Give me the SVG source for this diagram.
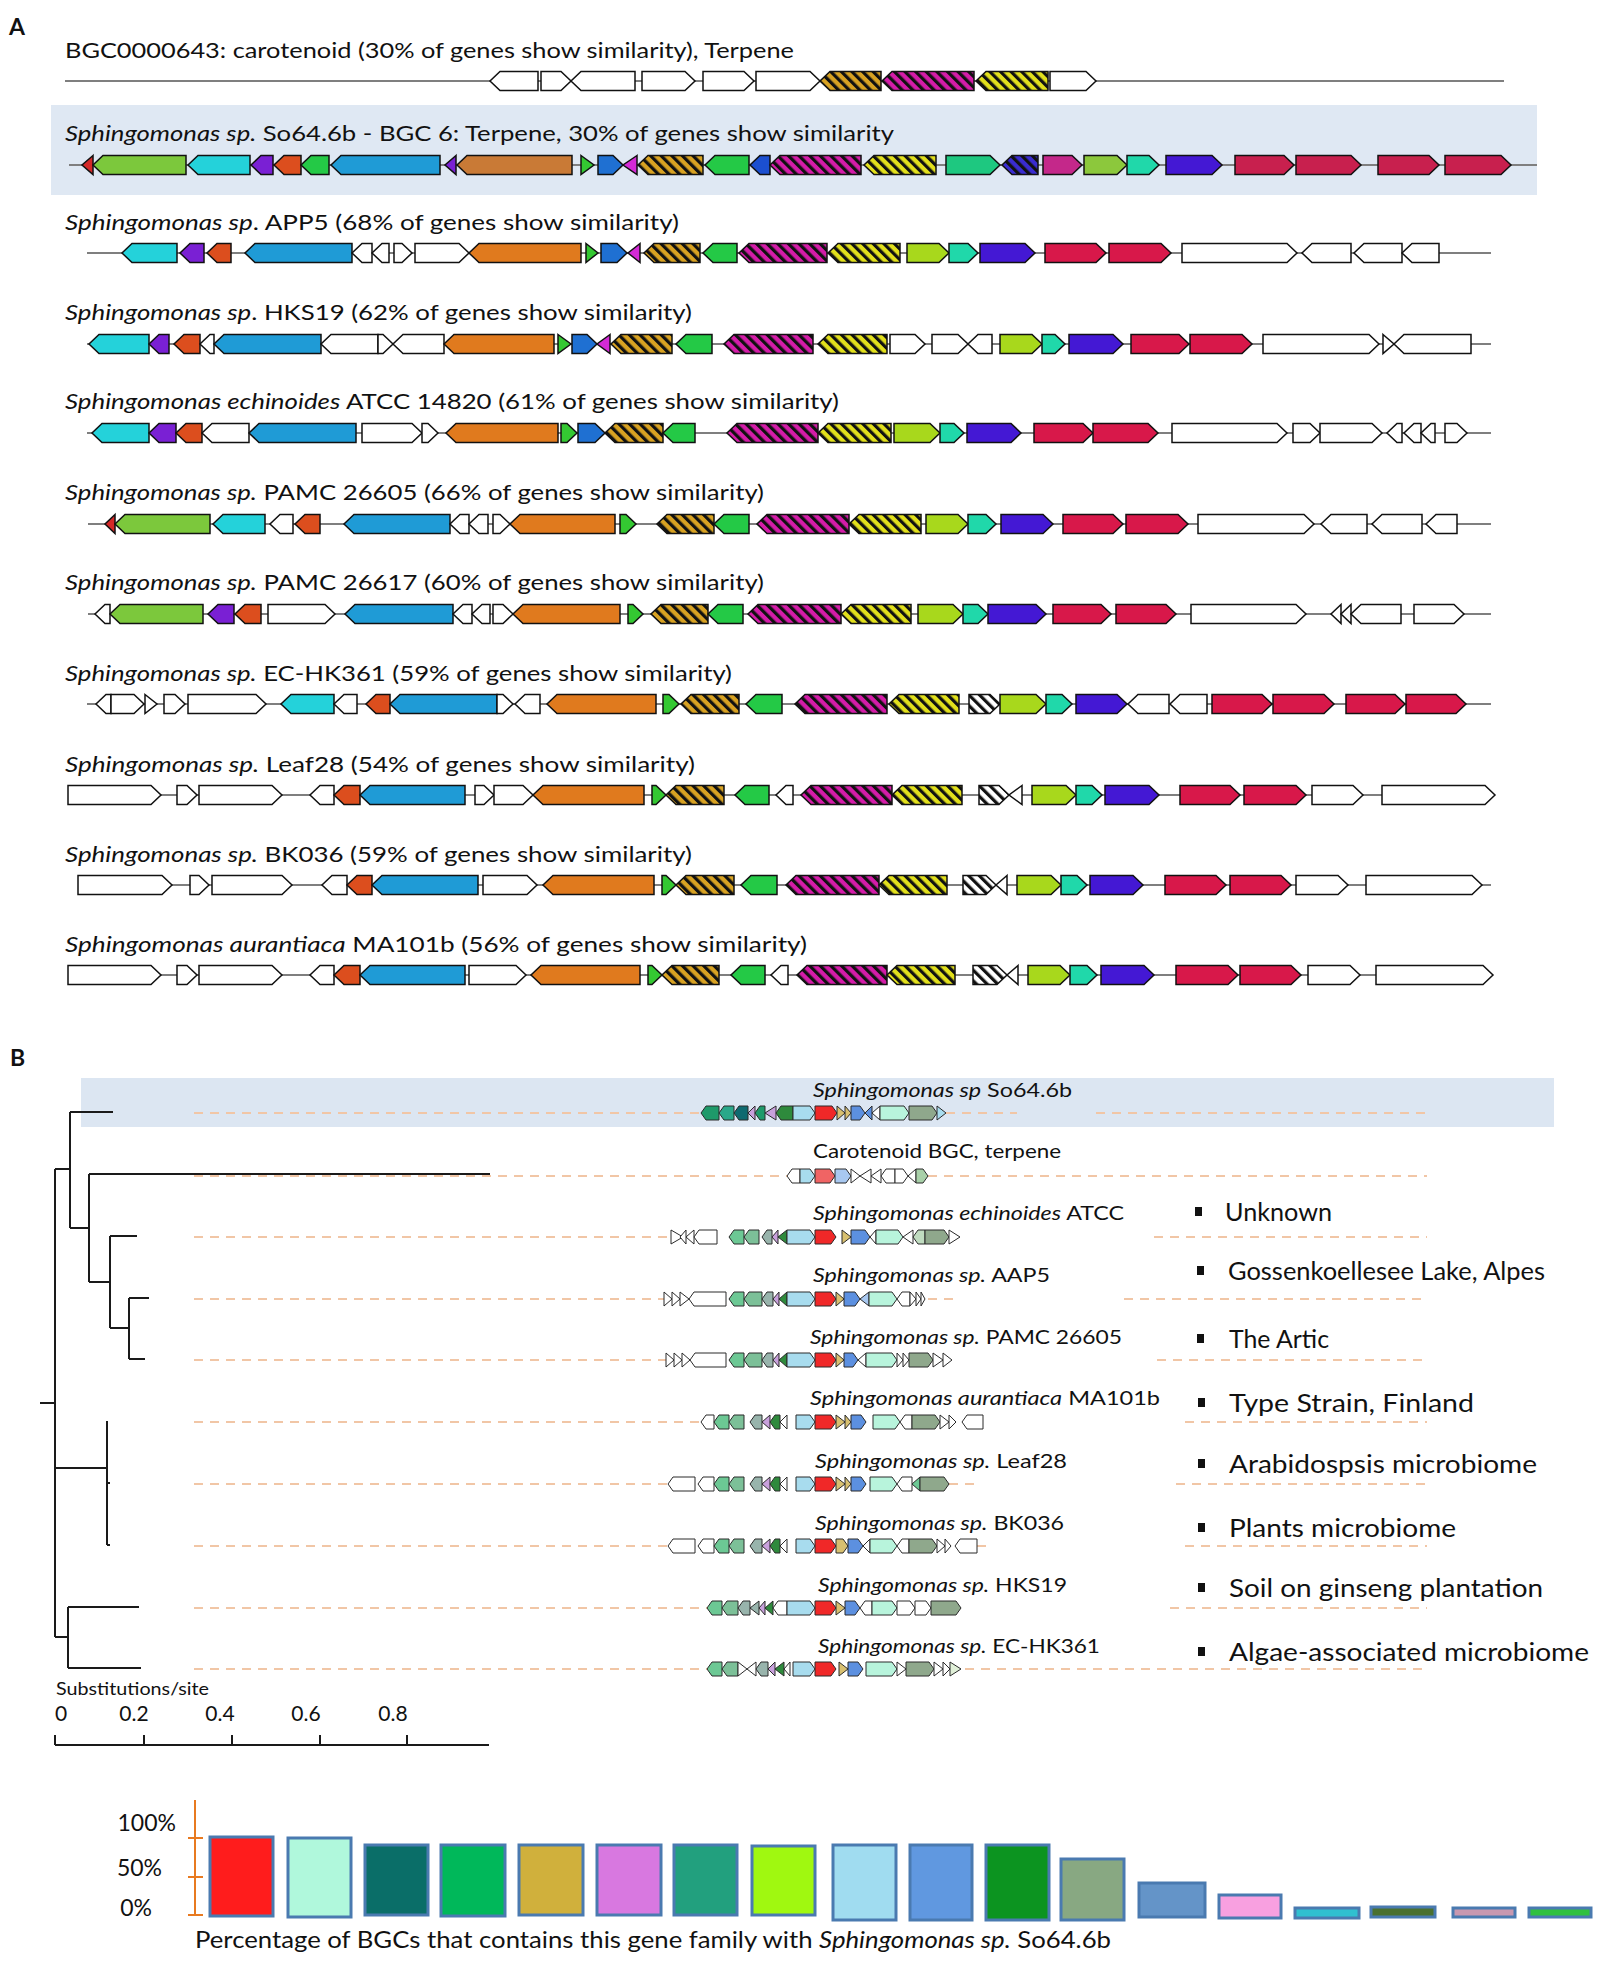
<svg xmlns="http://www.w3.org/2000/svg" width="1600" height="1961" viewBox="0 0 1600 1961">
<defs>
<pattern id="pO" patternUnits="userSpaceOnUse" width="7.5" height="10" patternTransform="rotate(-45)"><rect width="7.5" height="10" fill="#d8a222"/><rect width="3.2" height="10" fill="#111"/></pattern>
<pattern id="pM" patternUnits="userSpaceOnUse" width="7.5" height="10" patternTransform="rotate(-45)"><rect width="7.5" height="10" fill="#d41ca8"/><rect width="3.2" height="10" fill="#111"/></pattern>
<pattern id="pY" patternUnits="userSpaceOnUse" width="7.5" height="10" patternTransform="rotate(-45)"><rect width="7.5" height="10" fill="#e2e01c"/><rect width="3.2" height="10" fill="#111"/></pattern>
<pattern id="pW" patternUnits="userSpaceOnUse" width="7.5" height="10" patternTransform="rotate(-45)"><rect width="7.5" height="10" fill="#fff"/><rect width="3.2" height="10" fill="#111"/></pattern>
<pattern id="pD" patternUnits="userSpaceOnUse" width="7.5" height="10" patternTransform="rotate(-45)"><rect width="7.5" height="10" fill="#3a2cd0"/><rect width="3.2" height="10" fill="#111"/></pattern>
</defs>
<style>
.t{font-family:Lato,"Liberation Sans",sans-serif;fill:#111}
.ta{font-size:21px}
.tb{font-size:20px}
.tl{font-size:25px}
.i{font-style:italic}
.trk{stroke:#7f7f7f;stroke-width:2;fill:none}
.tree{stroke:#1a1a1a;stroke-width:2;fill:none}
.dash{stroke:#f1c6a6;stroke-width:2;stroke-dasharray:9 7;fill:none}
.ga path{stroke:#111;stroke-width:1.5;stroke-linejoin:miter}
.gb path{stroke:#2a2a2a;stroke-width:1;stroke-linejoin:miter}
.W{fill:#fff}.CY{fill:#24d2da}.PU{fill:#7a20d4}.OR{fill:#dc4e1e}.BL{fill:#1f9bd6}.BR{fill:#e07a1e}.BR1{fill:#c97a36}
.SG{fill:#34c832}.BB{fill:#1f70d2}.MG{fill:#d42ad6}.GR{fill:#24c946}.LM{fill:#a8d81c}.TE{fill:#20d8aa}.BV{fill:#4418d4}
.RD{fill:#d8184a}.RD1{fill:#c8204e}.LG{fill:#7cc83c}.RS{fill:#d42828}.TG{fill:#1ec880}.MR{fill:#c4288a}.LM1{fill:#8cc83c}.BB2{fill:#1b4fd0}
.HO{fill:url(#pO)}.HM{fill:url(#pM)}.HY{fill:url(#pY)}.HW{fill:url(#pW)}.HD{fill:url(#pD)}
.gA{fill:#1e9a6a}.tl2{fill:#2aa88a}.dt{fill:#0e6a70}.gB{fill:#6cc894}.gB2{fill:#7cc098}.gC{fill:#98b4ac}.pp{fill:#c8a0dc}.dg{fill:#2e8a3c}
.lb{fill:#a8dcee}.rd{fill:#f02828}.kh{fill:#d8c070}.bl{fill:#5c90e0}.mt{fill:#b8f4dc}.gg{fill:#8fa88c}
.bar{stroke:#4a7ab0;stroke-width:3}
</style>
<rect width="1600" height="1961" fill="#fff"/>

<!-- highlights -->
<rect x="51" y="105" width="1486" height="90" fill="#dfe8f3"/>
<rect x="81" y="1078" width="1473" height="49" fill="#dce6f2"/>

<text class="t" x="9" y="35" font-size="23" font-weight="bold">A</text>
<text class="t" x="10" y="1066" font-size="23" font-weight="bold">B</text>

<!-- connectors -->
<g id="connectors">
<path class="trk" d="M65,81H1504M69,165H1537M87,253H1491M87,344H1491M87,433H1491M88,524H1491M88,614H1491M87,704H1491M68,795H1495M78,885H1491M68,975H1493"/>
<path class="dash" d="M194,1113H701M946,1113H1017M1096,1113H1427M194,1176H787M928,1176H1427M194,1237H671M1154,1237H1427M194,1299H664M928,1299H958M1124,1299H1427M194,1360H666M1157,1360H1427M194,1422H701M1185,1422H1427M194,1484H668M949,1484H977M1176,1484H1427M194,1546H668M977,1546H990M1185,1546H1427M194,1608H707M1170,1608H1427M194,1669H707M965,1669H1427"/>
<path class="tree" d="M70,1112H113M70,1112V1228M55,1169H70M70,1228H89M89,1174V1282M89,1174H490M89,1282H110M110,1236V1328M110,1236H137M110,1328H129M129,1298V1359M129,1298H149M129,1359H145M55,1169V1637M40,1403H55M55,1468H107M107,1421V1545M107,1483H110M107,1545H110M55,1637H68M68,1607V1668M68,1607H139M68,1668H141"/>
</g>

<!-- Panel A titles -->
<g id="titlesA" class="t ta">
<text x="65" y="58" textLength="729" lengthAdjust="spacingAndGlyphs">BGC0000643: carotenoid (30% of genes show similarity), Terpene</text>
<text x="65" y="141" textLength="829" lengthAdjust="spacingAndGlyphs"><tspan class="i">Sphingomonas sp.</tspan> So64.6b - BGC 6: Terpene, 30% of genes show similarity</text>
<text x="65" y="230" textLength="614" lengthAdjust="spacingAndGlyphs"><tspan class="i">Sphingomonas sp</tspan>. APP5 (68% of genes show similarity)</text>
<text x="65" y="320" textLength="627" lengthAdjust="spacingAndGlyphs"><tspan class="i">Sphingomonas sp</tspan>. HKS19 (62% of genes show similarity)</text>
<text x="65" y="409" textLength="774" lengthAdjust="spacingAndGlyphs"><tspan class="i">Sphingomonas echinoides</tspan> ATCC 14820 (61% of genes show similarity)</text>
<text x="65" y="500" textLength="699" lengthAdjust="spacingAndGlyphs"><tspan class="i">Sphingomonas sp.</tspan> PAMC 26605 (66% of genes show similarity)</text>
<text x="65" y="590" textLength="699" lengthAdjust="spacingAndGlyphs"><tspan class="i">Sphingomonas sp.</tspan> PAMC 26617 (60% of genes show similarity)</text>
<text x="65" y="681" textLength="667" lengthAdjust="spacingAndGlyphs"><tspan class="i">Sphingomonas sp.</tspan> EC-HK361 (59% of genes show similarity)</text>
<text x="65" y="772" textLength="630" lengthAdjust="spacingAndGlyphs"><tspan class="i">Sphingomonas sp.</tspan> Leaf28 (54% of genes show similarity)</text>
<text x="65" y="862" textLength="627" lengthAdjust="spacingAndGlyphs"><tspan class="i">Sphingomonas sp.</tspan> BK036 (59% of genes show similarity)</text>
<text x="65" y="952" textLength="742" lengthAdjust="spacingAndGlyphs"><tspan class="i">Sphingomonas aurantiaca</tspan> MA101b (56% of genes show similarity)</text>
</g>

<!-- Panel A gene rows -->
<g id="rowA0" class="ga" transform="translate(0,81)">
<path class="W" d="M538,-9.5H500l-10,9.5l10,9.5H538Z"/>
<path class="W" d="M541,-9.5H561l10,9.5l-10,9.5H541Z"/>
<path class="W" d="M635,-9.5H581l-10,9.5l10,9.5H635Z"/>
<path class="W" d="M642,-9.5H685l10,9.5l-10,9.5H642Z"/>
<path class="W" d="M703,-9.5H744l10,9.5l-10,9.5H703Z"/>
<path class="W" d="M756,-9.5H810l10,9.5l-10,9.5H756Z"/>
<path class="HO" d="M881,-9.5H830l-10,9.5l10,9.5H881Z"/>
<path class="HM" d="M974,-9.5H892l-10,9.5l10,9.5H974Z"/>
<path class="HY" d="M1048,-9.5H986l-10,9.5l10,9.5H1048Z"/>
<path class="W" d="M1050,-9.5H1086l10,9.5l-10,9.5H1050Z"/>
</g>

<g id="rowA1" class="ga" transform="translate(0,165)">
<path class="RS" d="M93,-9.5L82,0L93,9.5Z"/>
<path class="LG" d="M186,-9.5H103l-10,9.5l10,9.5H186Z"/>
<path class="CY" d="M250,-9.5H198l-10,9.5l10,9.5H250Z"/>
<path class="PU" d="M273,-9.5H261l-10,9.5l10,9.5H273Z"/>
<path class="OR" d="M301,-9.5H284l-10,9.5l10,9.5H301Z"/>
<path class="GR" d="M329,-9.5H311l-10,9.5l10,9.5H329Z"/>
<path class="BL" d="M440,-9.5H341l-10,9.5l10,9.5H440Z"/>
<path class="PU" d="M456,-9.5L445,0L456,9.5Z"/>
<path class="BR1" d="M572,-9.5H467l-10,9.5l10,9.5H572Z"/>
<path class="SG" d="M581,-9.5L594,0L581,9.5Z"/>
<path class="BB" d="M598,-9.5H613l10,9.5l-10,9.5H598Z"/>
<path class="MG" d="M637,-9.5L623,0L637,9.5Z"/>
<path class="HO" d="M703,-9.5H648l-10,9.5l10,9.5H703Z"/>
<path class="GR" d="M749,-9.5H715l-10,9.5l10,9.5H749Z"/>
<path class="BB2" d="M770,-9.5H760l-10,9.5l10,9.5H770Z"/>
<path class="HM" d="M861,-9.5H780l-10,9.5l10,9.5H861Z"/>
<path class="HY" d="M936,-9.5H874l-10,9.5l10,9.5H936Z"/>
<path class="TG" d="M946,-9.5H990l10,9.5l-10,9.5H946Z"/>
<path class="HD" d="M1038,-9.5H1012l-10,9.5l10,9.5H1038Z"/>
<path class="MR" d="M1043,-9.5H1072l10,9.5l-10,9.5H1043Z"/>
<path class="LM1" d="M1084,-9.5H1117l10,9.5l-10,9.5H1084Z"/>
<path class="TE" d="M1127,-9.5H1149l10,9.5l-10,9.5H1127Z"/>
<path class="BV" d="M1166,-9.5H1212l10,9.5l-10,9.5H1166Z"/>
<path class="RD1" d="M1235,-9.5H1284l10,9.5l-10,9.5H1235Z"/>
<path class="RD1" d="M1296,-9.5H1351l10,9.5l-10,9.5H1296Z"/>
<path class="RD1" d="M1378,-9.5H1429l10,9.5l-10,9.5H1378Z"/>
<path class="RD1" d="M1445,-9.5H1501l10,9.5l-10,9.5H1445Z"/>
</g>

<g id="rowA2" class="ga" transform="translate(0,253)">
<path class="CY" d="M177,-9.5H132l-10,9.5l10,9.5H177Z"/>
<path class="PU" d="M204,-9.5H190l-10,9.5l10,9.5H204Z"/>
<path class="OR" d="M231,-9.5H217l-10,9.5l10,9.5H231Z"/>
<path class="BL" d="M352,-9.5H255l-10,9.5l10,9.5H352Z"/>
<path class="W" d="M372,-9.5H362l-10,9.5l10,9.5H372Z"/>
<path class="W" d="M389,-9.5H382l-10,9.5l10,9.5H389Z"/>
<path class="W" d="M394,-9.5H402l10,9.5l-10,9.5H394Z"/>
<path class="W" d="M415,-9.5H459l10,9.5l-10,9.5H415Z"/>
<path class="BR" d="M581,-9.5H479l-10,9.5l10,9.5H581Z"/>
<path class="SG" d="M586,-9.5L598,0L586,9.5Z"/>
<path class="BB" d="M601,-9.5H617l10,9.5l-10,9.5H601Z"/>
<path class="MG" d="M640,-9.5L628,0L640,9.5Z"/>
<path class="HO" d="M700,-9.5H654l-10,9.5l10,9.5H700Z"/>
<path class="GR" d="M737,-9.5H713l-10,9.5l10,9.5H737Z"/>
<path class="HM" d="M827,-9.5H749l-10,9.5l10,9.5H827Z"/>
<path class="HY" d="M900,-9.5H838l-10,9.5l10,9.5H900Z"/>
<path class="LM" d="M907,-9.5H939l10,9.5l-10,9.5H907Z"/>
<path class="TE" d="M949,-9.5H968l10,9.5l-10,9.5H949Z"/>
<path class="BV" d="M980,-9.5H1025l10,9.5l-10,9.5H980Z"/>
<path class="RD" d="M1045,-9.5H1096l10,9.5l-10,9.5H1045Z"/>
<path class="RD" d="M1109,-9.5H1161l10,9.5l-10,9.5H1109Z"/>
<path class="W" d="M1182,-9.5H1287l10,9.5l-10,9.5H1182Z"/>
<path class="W" d="M1351,-9.5H1312l-10,9.5l10,9.5H1351Z"/>
<path class="W" d="M1402,-9.5H1364l-10,9.5l10,9.5H1402Z"/>
<path class="W" d="M1439,-9.5H1412l-10,9.5l10,9.5H1439Z"/>
</g>

<g id="rowA3" class="ga" transform="translate(0,344)">
<path class="CY" d="M149,-9.5H99l-10,9.5l10,9.5H149Z"/>
<path class="PU" d="M169,-9.5H159l-10,9.5l10,9.5H169Z"/>
<path class="OR" d="M200,-9.5H184l-10,9.5l10,9.5H200Z"/>
<path class="W" d="M214,-9.5H210l-10,9.5l10,9.5H214Z"/>
<path class="BL" d="M321,-9.5H224l-10,9.5l10,9.5H321Z"/>
<path class="W" d="M378,-9.5H331l-10,9.5l10,9.5H378Z"/>
<path class="W" d="M378,-9.5H383l10,9.5l-10,9.5H378Z"/>
<path class="W" d="M444,-9.5H403l-10,9.5l10,9.5H444Z"/>
<path class="BR" d="M554,-9.5H454l-10,9.5l10,9.5H554Z"/>
<path class="SG" d="M558,-9.5L571,0L558,9.5Z"/>
<path class="BB" d="M572,-9.5H587l10,9.5l-10,9.5H572Z"/>
<path class="MG" d="M610,-9.5L597,0L610,9.5Z"/>
<path class="HO" d="M672,-9.5H621l-10,9.5l10,9.5H672Z"/>
<path class="GR" d="M712,-9.5H686l-10,9.5l10,9.5H712Z"/>
<path class="HM" d="M813,-9.5H734l-10,9.5l10,9.5H813Z"/>
<path class="HY" d="M887,-9.5H828l-10,9.5l10,9.5H887Z"/>
<path class="W" d="M890,-9.5H915l10,9.5l-10,9.5H890Z"/>
<path class="W" d="M932,-9.5H958l10,9.5l-10,9.5H932Z"/>
<path class="W" d="M992,-9.5H978l-10,9.5l10,9.5H992Z"/>
<path class="LM" d="M1000,-9.5H1032l10,9.5l-10,9.5H1000Z"/>
<path class="TE" d="M1042,-9.5H1055l10,9.5l-10,9.5H1042Z"/>
<path class="BV" d="M1069,-9.5H1113l10,9.5l-10,9.5H1069Z"/>
<path class="RD" d="M1131,-9.5H1179l10,9.5l-10,9.5H1131Z"/>
<path class="RD" d="M1190,-9.5H1242l10,9.5l-10,9.5H1190Z"/>
<path class="W" d="M1263,-9.5H1369l10,9.5l-10,9.5H1263Z"/>
<path class="W" d="M1383,-9.5L1394,0L1383,9.5Z"/>
<path class="W" d="M1471,-9.5H1404l-10,9.5l10,9.5H1471Z"/>
</g>

<g id="rowA4" class="ga" transform="translate(0,433)">
<path class="CY" d="M149,-9.5H102l-10,9.5l10,9.5H149Z"/>
<path class="PU" d="M176,-9.5H159l-10,9.5l10,9.5H176Z"/>
<path class="OR" d="M202,-9.5H186l-10,9.5l10,9.5H202Z"/>
<path class="W" d="M249,-9.5H212l-10,9.5l10,9.5H249Z"/>
<path class="BL" d="M356,-9.5H259l-10,9.5l10,9.5H356Z"/>
<path class="W" d="M362,-9.5H412l10,9.5l-10,9.5H362Z"/>
<path class="W" d="M422,-9.5H428l10,9.5l-10,9.5H422Z"/>
<path class="BR" d="M558,-9.5H456l-10,9.5l10,9.5H558Z"/>
<path class="SG" d="M561,-9.5H567l10,9.5l-10,9.5H561Z"/>
<path class="BB" d="M578,-9.5H595l10,9.5l-10,9.5H578Z"/>
<path class="HO" d="M663,-9.5H615l-10,9.5l10,9.5H663Z"/>
<path class="GR" d="M695,-9.5H673l-10,9.5l10,9.5H695Z"/>
<path class="HM" d="M818,-9.5H737l-10,9.5l10,9.5H818Z"/>
<path class="HY" d="M891,-9.5H828l-10,9.5l10,9.5H891Z"/>
<path class="LM" d="M894,-9.5H930l10,9.5l-10,9.5H894Z"/>
<path class="TE" d="M940,-9.5H954l10,9.5l-10,9.5H940Z"/>
<path class="BV" d="M967,-9.5H1011l10,9.5l-10,9.5H967Z"/>
<path class="RD" d="M1034,-9.5H1083l10,9.5l-10,9.5H1034Z"/>
<path class="RD" d="M1093,-9.5H1148l10,9.5l-10,9.5H1093Z"/>
<path class="W" d="M1172,-9.5H1277l10,9.5l-10,9.5H1172Z"/>
<path class="W" d="M1293,-9.5H1310l10,9.5l-10,9.5H1293Z"/>
<path class="W" d="M1320,-9.5H1372l10,9.5l-10,9.5H1320Z"/>
<path class="W" d="M1402,-9.5H1397l-10,9.5l10,9.5H1402Z"/>
<path class="W" d="M1421,-9.5H1414l-10,9.5l10,9.5H1421Z"/>
<path class="W" d="M1435,-9.5H1431l-10,9.5l10,9.5H1435Z"/>
<path class="W" d="M1445,-9.5H1457l10,9.5l-10,9.5H1445Z"/>
</g>

<g id="rowA5" class="ga" transform="translate(0,524)">
<path class="RS" d="M115,-9.5L105,0L115,9.5Z"/>
<path class="LG" d="M210,-9.5H125l-10,9.5l10,9.5H210Z"/>
<path class="CY" d="M265,-9.5H223l-10,9.5l10,9.5H265Z"/>
<path class="W" d="M293,-9.5H280l-10,9.5l10,9.5H293Z"/>
<path class="OR" d="M320,-9.5H305l-10,9.5l10,9.5H320Z"/>
<path class="BL" d="M450,-9.5H354l-10,9.5l10,9.5H450Z"/>
<path class="W" d="M469,-9.5H460l-10,9.5l10,9.5H469Z"/>
<path class="W" d="M488,-9.5H479l-10,9.5l10,9.5H488Z"/>
<path class="W" d="M493,-9.5H500l10,9.5l-10,9.5H493Z"/>
<path class="BR" d="M615,-9.5H520l-10,9.5l10,9.5H615Z"/>
<path class="SG" d="M620,-9.5H626l10,9.5l-10,9.5H620Z"/>
<path class="HO" d="M714,-9.5H667l-10,9.5l10,9.5H714Z"/>
<path class="GR" d="M749,-9.5H724l-10,9.5l10,9.5H749Z"/>
<path class="HM" d="M849,-9.5H767l-10,9.5l10,9.5H849Z"/>
<path class="HY" d="M921,-9.5H859l-10,9.5l10,9.5H921Z"/>
<path class="LM" d="M926,-9.5H958l10,9.5l-10,9.5H926Z"/>
<path class="TE" d="M968,-9.5H986l10,9.5l-10,9.5H968Z"/>
<path class="BV" d="M1001,-9.5H1043l10,9.5l-10,9.5H1001Z"/>
<path class="RD" d="M1063,-9.5H1113l10,9.5l-10,9.5H1063Z"/>
<path class="RD" d="M1126,-9.5H1178l10,9.5l-10,9.5H1126Z"/>
<path class="W" d="M1198,-9.5H1304l10,9.5l-10,9.5H1198Z"/>
<path class="W" d="M1367,-9.5H1331l-10,9.5l10,9.5H1367Z"/>
<path class="W" d="M1422,-9.5H1382l-10,9.5l10,9.5H1422Z"/>
<path class="W" d="M1457,-9.5H1436l-10,9.5l10,9.5H1457Z"/>
</g>

<g id="rowA6" class="ga" transform="translate(0,614)">
<path class="W" d="M110,-9.5H105l-10,9.5l10,9.5H110Z"/>
<path class="LG" d="M203,-9.5H120l-10,9.5l10,9.5H203Z"/>
<path class="PU" d="M234,-9.5H218l-10,9.5l10,9.5H234Z"/>
<path class="OR" d="M261,-9.5H245l-10,9.5l10,9.5H261Z"/>
<path class="W" d="M268,-9.5H325l10,9.5l-10,9.5H268Z"/>
<path class="BL" d="M453,-9.5H355l-10,9.5l10,9.5H453Z"/>
<path class="W" d="M472,-9.5H463l-10,9.5l10,9.5H472Z"/>
<path class="W" d="M490,-9.5H482l-10,9.5l10,9.5H490Z"/>
<path class="W" d="M493,-9.5H503l10,9.5l-10,9.5H493Z"/>
<path class="BR" d="M620,-9.5H523l-10,9.5l10,9.5H620Z"/>
<path class="SG" d="M628,-9.5H633l10,9.5l-10,9.5H628Z"/>
<path class="HO" d="M708,-9.5H661l-10,9.5l10,9.5H708Z"/>
<path class="GR" d="M743,-9.5H718l-10,9.5l10,9.5H743Z"/>
<path class="HM" d="M841,-9.5H758l-10,9.5l10,9.5H841Z"/>
<path class="HY" d="M911,-9.5H851l-10,9.5l10,9.5H911Z"/>
<path class="LM" d="M918,-9.5H953l10,9.5l-10,9.5H918Z"/>
<path class="TE" d="M963,-9.5H978l10,9.5l-10,9.5H963Z"/>
<path class="BV" d="M988,-9.5H1036l10,9.5l-10,9.5H988Z"/>
<path class="RD" d="M1053,-9.5H1101l10,9.5l-10,9.5H1053Z"/>
<path class="RD" d="M1116,-9.5H1166l10,9.5l-10,9.5H1116Z"/>
<path class="W" d="M1191,-9.5H1296l10,9.5l-10,9.5H1191Z"/>
<path class="W" d="M1341,-9.5L1331,0L1341,9.5Z"/>
<path class="W" d="M1351,-9.5L1341,0L1351,9.5Z"/>
<path class="W" d="M1401,-9.5H1361l-10,9.5l10,9.5H1401Z"/>
<path class="W" d="M1414,-9.5H1454l10,9.5l-10,9.5H1414Z"/>
</g>

<g id="rowA7" class="ga" transform="translate(0,704)">
<path class="W" d="M111,-9.5H106l-10,9.5l10,9.5H111Z"/>
<path class="W" d="M111,-9.5H134l10,9.5l-10,9.5H111Z"/>
<path class="W" d="M145,-9.5L157,0L145,9.5Z"/>
<path class="W" d="M164,-9.5H175l10,9.5l-10,9.5H164Z"/>
<path class="W" d="M188,-9.5H256l10,9.5l-10,9.5H188Z"/>
<path class="CY" d="M334,-9.5H291l-10,9.5l10,9.5H334Z"/>
<path class="W" d="M357,-9.5H344l-10,9.5l10,9.5H357Z"/>
<path class="OR" d="M390,-9.5H376l-10,9.5l10,9.5H390Z"/>
<path class="BL" d="M497,-9.5H400l-10,9.5l10,9.5H497Z"/>
<path class="W" d="M497,-9.5H503l10,9.5l-10,9.5H497Z"/>
<path class="W" d="M540,-9.5H525l-10,9.5l10,9.5H540Z"/>
<path class="BR" d="M656,-9.5H557l-10,9.5l10,9.5H656Z"/>
<path class="SG" d="M663,-9.5H669l10,9.5l-10,9.5H663Z"/>
<path class="HO" d="M739,-9.5H691l-10,9.5l10,9.5H739Z"/>
<path class="GR" d="M782,-9.5H756l-10,9.5l10,9.5H782Z"/>
<path class="HM" d="M887,-9.5H805l-10,9.5l10,9.5H887Z"/>
<path class="HY" d="M959,-9.5H899l-10,9.5l10,9.5H959Z"/>
<path class="HW" d="M969,-9.5H990l10,9.5l-10,9.5H969Z"/>
<path class="LM" d="M1000,-9.5H1036l10,9.5l-10,9.5H1000Z"/>
<path class="TE" d="M1046,-9.5H1062l10,9.5l-10,9.5H1046Z"/>
<path class="BV" d="M1076,-9.5H1117l10,9.5l-10,9.5H1076Z"/>
<path class="W" d="M1169,-9.5H1138l-10,9.5l10,9.5H1169Z"/>
<path class="W" d="M1207,-9.5H1180l-10,9.5l10,9.5H1207Z"/>
<path class="RD" d="M1212,-9.5H1262l10,9.5l-10,9.5H1212Z"/>
<path class="RD" d="M1273,-9.5H1324l10,9.5l-10,9.5H1273Z"/>
<path class="RD" d="M1346,-9.5H1395l10,9.5l-10,9.5H1346Z"/>
<path class="RD" d="M1406,-9.5H1456l10,9.5l-10,9.5H1406Z"/>
</g>

<g id="rowA8" class="ga" transform="translate(0,795)">
<path class="W" d="M68,-9.5H151l10,9.5l-10,9.5H68Z"/>
<path class="W" d="M177,-9.5H187l10,9.5l-10,9.5H177Z"/>
<path class="W" d="M199,-9.5H272l10,9.5l-10,9.5H199Z"/>
<path class="W" d="M334,-9.5H320l-10,9.5l10,9.5H334Z"/>
<path class="OR" d="M360,-9.5H344l-10,9.5l10,9.5H360Z"/>
<path class="BL" d="M465,-9.5H370l-10,9.5l10,9.5H465Z"/>
<path class="W" d="M475,-9.5H484l10,9.5l-10,9.5H475Z"/>
<path class="W" d="M494,-9.5H523l10,9.5l-10,9.5H494Z"/>
<path class="BR" d="M644,-9.5H543l-10,9.5l10,9.5H644Z"/>
<path class="SG" d="M652,-9.5H656l10,9.5l-10,9.5H652Z"/>
<path class="HO" d="M724,-9.5H676l-10,9.5l10,9.5H724Z"/>
<path class="GR" d="M769,-9.5H745l-10,9.5l10,9.5H769Z"/>
<path class="W" d="M793,-9.5H786l-10,9.5l10,9.5H793Z"/>
<path class="HM" d="M892,-9.5H811l-10,9.5l10,9.5H892Z"/>
<path class="HY" d="M962,-9.5H902l-10,9.5l10,9.5H962Z"/>
<path class="HW" d="M979,-9.5H999l10,9.5l-10,9.5H979Z"/>
<path class="W" d="M1022,-9.5L1009,0L1022,9.5Z"/>
<path class="LM" d="M1032,-9.5H1066l10,9.5l-10,9.5H1032Z"/>
<path class="TE" d="M1076,-9.5H1092l10,9.5l-10,9.5H1076Z"/>
<path class="BV" d="M1105,-9.5H1149l10,9.5l-10,9.5H1105Z"/>
<path class="RD" d="M1180,-9.5H1230l10,9.5l-10,9.5H1180Z"/>
<path class="RD" d="M1244,-9.5H1296l10,9.5l-10,9.5H1244Z"/>
<path class="W" d="M1312,-9.5H1353l10,9.5l-10,9.5H1312Z"/>
<path class="W" d="M1382,-9.5H1485l10,9.5l-10,9.5H1382Z"/>
</g>

<g id="rowA9" class="ga" transform="translate(0,885)">
<path class="W" d="M78,-9.5H162l10,9.5l-10,9.5H78Z"/>
<path class="W" d="M190,-9.5H199l10,9.5l-10,9.5H190Z"/>
<path class="W" d="M212,-9.5H282l10,9.5l-10,9.5H212Z"/>
<path class="W" d="M347,-9.5H332l-10,9.5l10,9.5H347Z"/>
<path class="OR" d="M372,-9.5H357l-10,9.5l10,9.5H372Z"/>
<path class="BL" d="M478,-9.5H382l-10,9.5l10,9.5H478Z"/>
<path class="W" d="M483,-9.5H527l10,9.5l-10,9.5H483Z"/>
<path class="BR" d="M654,-9.5H553l-10,9.5l10,9.5H654Z"/>
<path class="SG" d="M662,-9.5H666l10,9.5l-10,9.5H662Z"/>
<path class="HO" d="M734,-9.5H686l-10,9.5l10,9.5H734Z"/>
<path class="GR" d="M777,-9.5H751l-10,9.5l10,9.5H777Z"/>
<path class="HM" d="M879,-9.5H796l-10,9.5l10,9.5H879Z"/>
<path class="HY" d="M947,-9.5H889l-10,9.5l10,9.5H947Z"/>
<path class="HW" d="M963,-9.5H986l10,9.5l-10,9.5H963Z"/>
<path class="W" d="M1007,-9.5L996,0L1007,9.5Z"/>
<path class="LM" d="M1017,-9.5H1051l10,9.5l-10,9.5H1017Z"/>
<path class="TE" d="M1061,-9.5H1077l10,9.5l-10,9.5H1061Z"/>
<path class="BV" d="M1090,-9.5H1133l10,9.5l-10,9.5H1090Z"/>
<path class="RD" d="M1165,-9.5H1216l10,9.5l-10,9.5H1165Z"/>
<path class="RD" d="M1230,-9.5H1281l10,9.5l-10,9.5H1230Z"/>
<path class="W" d="M1296,-9.5H1338l10,9.5l-10,9.5H1296Z"/>
<path class="W" d="M1366,-9.5H1472l10,9.5l-10,9.5H1366Z"/>
</g>

<g id="rowA10" class="ga" transform="translate(0,975)">
<path class="W" d="M68,-9.5H151l10,9.5l-10,9.5H68Z"/>
<path class="W" d="M177,-9.5H187l10,9.5l-10,9.5H177Z"/>
<path class="W" d="M199,-9.5H272l10,9.5l-10,9.5H199Z"/>
<path class="W" d="M334,-9.5H320l-10,9.5l10,9.5H334Z"/>
<path class="OR" d="M360,-9.5H344l-10,9.5l10,9.5H360Z"/>
<path class="BL" d="M465,-9.5H370l-10,9.5l10,9.5H465Z"/>
<path class="W" d="M469,-9.5H516l10,9.5l-10,9.5H469Z"/>
<path class="BR" d="M640,-9.5H541l-10,9.5l10,9.5H640Z"/>
<path class="SG" d="M648,-9.5H652l10,9.5l-10,9.5H648Z"/>
<path class="HO" d="M719,-9.5H672l-10,9.5l10,9.5H719Z"/>
<path class="GR" d="M765,-9.5H741l-10,9.5l10,9.5H765Z"/>
<path class="W" d="M788,-9.5H781l-10,9.5l10,9.5H788Z"/>
<path class="HM" d="M887,-9.5H807l-10,9.5l10,9.5H887Z"/>
<path class="HY" d="M955,-9.5H897l-10,9.5l10,9.5H955Z"/>
<path class="HW" d="M973,-9.5H997l10,9.5l-10,9.5H973Z"/>
<path class="W" d="M1018,-9.5L1007,0L1018,9.5Z"/>
<path class="LM" d="M1028,-9.5H1060l10,9.5l-10,9.5H1028Z"/>
<path class="TE" d="M1070,-9.5H1087l10,9.5l-10,9.5H1070Z"/>
<path class="BV" d="M1101,-9.5H1144l10,9.5l-10,9.5H1101Z"/>
<path class="RD" d="M1176,-9.5H1228l10,9.5l-10,9.5H1176Z"/>
<path class="RD" d="M1240,-9.5H1291l10,9.5l-10,9.5H1240Z"/>
<path class="W" d="M1308,-9.5H1350l10,9.5l-10,9.5H1308Z"/>
<path class="W" d="M1376,-9.5H1483l10,9.5l-10,9.5H1376Z"/>
</g>

<!-- Panel B labels -->
<g id="labelsB" class="t tb">
<text x="813" y="1097" textLength="259" lengthAdjust="spacingAndGlyphs"><tspan class="i">Sphingomonas sp</tspan> So64.6b</text>
<text x="813" y="1158" textLength="248" lengthAdjust="spacingAndGlyphs">Carotenoid BGC, terpene</text>
<text x="813" y="1220" textLength="311" lengthAdjust="spacingAndGlyphs"><tspan class="i">Sphingomonas echinoides</tspan> ATCC</text>
<text x="813" y="1282" textLength="237" lengthAdjust="spacingAndGlyphs"><tspan class="i">Sphingomonas sp.</tspan> AAP5</text>
<text x="810" y="1344" textLength="312" lengthAdjust="spacingAndGlyphs"><tspan class="i">Sphingomonas sp.</tspan> PAMC 26605</text>
<text x="810" y="1405" textLength="350" lengthAdjust="spacingAndGlyphs"><tspan class="i">Sphingomonas aurantiaca</tspan> MA101b</text>
<text x="815" y="1468" textLength="252" lengthAdjust="spacingAndGlyphs"><tspan class="i">Sphingomonas sp.</tspan> Leaf28</text>
<text x="815" y="1530" textLength="249" lengthAdjust="spacingAndGlyphs"><tspan class="i">Sphingomonas sp.</tspan> BK036</text>
<text x="818" y="1592" textLength="249" lengthAdjust="spacingAndGlyphs"><tspan class="i">Sphingomonas sp.</tspan> HKS19</text>
<text x="818" y="1653" textLength="282" lengthAdjust="spacingAndGlyphs"><tspan class="i">Sphingomonas sp.</tspan> EC-HK361</text>
</g>

<!-- Panel B gene clusters -->
<g id="rowB1" class="gb" transform="translate(0,1113)">
<path class="gA" d="M719,-7H706l-5,7l5,7H719Z"/>
<path class="tl2" d="M734,-7H724l-5,7l5,7H734Z"/>
<path class="dt" d="M748,-7H739l-5,7l5,7H748Z"/>
<path class="pp" d="M755,-7L748,0L755,7Z"/>
<path class="gA" d="M765,-7H760l-5,7l5,7H765Z"/>
<path class="pp" d="M776,-7L765,0L776,7Z"/>
<path class="dg" d="M793,-7H781l-5,7l5,7H793Z"/>
<path class="lb" d="M793,-7H810l5,7l-5,7H793Z"/>
<path class="rd" d="M815,-7H832l5,7l-5,7H815Z"/>
<path class="kh" d="M837,-7L845,0L837,7Z"/>
<path class="kh" d="M845,-7L851,0L845,7Z"/>
<path class="bl" d="M851,-7H860l5,7l-5,7H851Z"/>
<path class="bl" d="M872,-7L865,0L872,7Z"/>
<path class="W" d="M880,-7L872,0L880,7Z"/>
<path class="mt" d="M880,-7H904l5,7l-5,7H880Z"/>
<path class="gg" d="M909,-7H932l5,7l-5,7H909Z"/>
<path class="lb" d="M937,-7L946,0L937,7Z"/>
</g>
<g id="rowB2" class="gb" transform="translate(0,1176)">
<path class="W" d="M800,-7H792l-5,7l5,7H800Z"/>
<path class="lb" d="M800,-7H810l5,7l-5,7H800Z"/>
<path class="rd" d="M815,-7H830l5,7l-5,7H815Z" style="fill:#f06464"/>
<path class="lb" d="M835,-7H846l5,7l-5,7H835Z" style="fill:#a8c8f0"/>
<path class="W" d="M851,-7L860,0L851,7Z"/>
<path class="W" d="M871,-7L860,0L871,7Z"/>
<path class="W" d="M881,-7L871,0L881,7Z"/>
<path class="W" d="M895,-7H886l-5,7l5,7H895Z"/>
<path class="W" d="M895,-7H903l5,7l-5,7H895Z"/>
<path class="W" d="M916,-7L908,0L916,7Z"/>
<path class="gB" d="M916,-7H923l5,7l-5,7H916Z" style="fill:#a8d0a8"/>
</g>
<g id="rowB3" class="gb" transform="translate(0,1237)">
<path class="W" d="M671,-7L683,0L671,7Z"/>
<path class="W" d="M686,-7L680,0L686,7Z"/>
<path class="W" d="M694,-7L686,0L694,7Z"/>
<path class="W" d="M717,-7H699l-5,7l5,7H717Z"/>
<path class="gB" d="M744,-7H734l-5,7l5,7H744Z"/>
<path class="gB2" d="M759,-7H749l-5,7l5,7H759Z"/>
<path class="gC" d="M772,-7H767l-5,7l5,7H772Z"/>
<path class="pp" d="M778,-7L772,0L778,7Z"/>
<path class="dg" d="M787,-7L778,0L787,7Z"/>
<path class="lb" d="M787,-7H810l5,7l-5,7H787Z"/>
<path class="rd" d="M815,-7H831l5,7l-5,7H815Z"/>
<path class="kh" d="M842,-7L851,0L842,7Z"/>
<path class="bl" d="M851,-7H865l5,7l-5,7H851Z"/>
<path class="W" d="M876,-7L870,0L876,7Z"/>
<path class="mt" d="M876,-7H898l5,7l-5,7H876Z"/>
<path class="W" d="M913,-7L903,0L913,7Z"/>
<path class="gB" d="M925,-7H918l-5,7l5,7H925Z" style="fill:#c0dcc0"/>
<path class="gg" d="M925,-7H944l5,7l-5,7H925Z"/>
<path class="W" d="M949,-7L960,0L949,7Z"/>
</g>
<g id="rowB4" class="gb" transform="translate(0,1299)">
<path class="W" d="M664,-7L672,0L664,7Z"/>
<path class="W" d="M672,-7L680,0L672,7Z"/>
<path class="W" d="M680,-7L689,0L680,7Z"/>
<path class="W" d="M726,-7H694l-5,7l5,7H726Z"/>
<path class="gB" d="M744,-7H734l-5,7l5,7H744Z"/>
<path class="gB2" d="M762,-7H749l-5,7l5,7H762Z"/>
<path class="gC" d="M773,-7H767l-5,7l5,7H773Z"/>
<path class="pp" d="M779,-7L773,0L779,7Z"/>
<path class="dg" d="M787,-7L779,0L787,7Z"/>
<path class="lb" d="M787,-7H810l5,7l-5,7H787Z"/>
<path class="rd" d="M815,-7H831l5,7l-5,7H815Z"/>
<path class="kh" d="M836,-7L844,0L836,7Z"/>
<path class="bl" d="M844,-7H855l5,7l-5,7H844Z"/>
<path class="lb" d="M869,-7L860,0L869,7Z" style="fill:#a8c8f0"/>
<path class="mt" d="M869,-7H892l5,7l-5,7H869Z"/>
<path class="W" d="M910,-7H902l-5,7l5,7H910Z"/>
<path class="W" d="M910,-7L916,0L910,7Z"/>
<path class="W" d="M916,-7L921,0L916,7Z"/>
<path class="W" d="M921,-7L925,0L921,7Z"/>
</g>
<g id="rowB5" class="gb" transform="translate(0,1360)">
<path class="W" d="M666,-7L674,0L666,7Z"/>
<path class="W" d="M674,-7L682,0L674,7Z"/>
<path class="W" d="M682,-7L690,0L682,7Z"/>
<path class="W" d="M726,-7H695l-5,7l5,7H726Z"/>
<path class="gB" d="M744,-7H734l-5,7l5,7H744Z"/>
<path class="gB2" d="M762,-7H749l-5,7l5,7H762Z"/>
<path class="gC" d="M773,-7H767l-5,7l5,7H773Z"/>
<path class="pp" d="M779,-7L773,0L779,7Z"/>
<path class="dg" d="M787,-7L779,0L787,7Z"/>
<path class="lb" d="M787,-7H810l5,7l-5,7H787Z"/>
<path class="rd" d="M815,-7H831l5,7l-5,7H815Z"/>
<path class="kh" d="M836,-7L844,0L836,7Z"/>
<path class="bl" d="M844,-7H853l5,7l-5,7H844Z"/>
<path class="W" d="M866,-7L858,0L866,7Z"/>
<path class="mt" d="M866,-7H892l5,7l-5,7H866Z"/>
<path class="W" d="M897,-7L903,0L897,7Z"/>
<path class="W" d="M903,-7L909,0L903,7Z"/>
<path class="gg" d="M909,-7H928l5,7l-5,7H909Z"/>
<path class="W" d="M933,-7L943,0L933,7Z"/>
<path class="W" d="M943,-7L952,0L943,7Z"/>
</g>
<g id="rowB6" class="gb" transform="translate(0,1422)">
<path class="W" d="M714,-7H706l-5,7l5,7H714Z"/>
<path class="gB" d="M729,-7H719l-5,7l5,7H729Z"/>
<path class="gB2" d="M744,-7H734l-5,7l5,7H744Z"/>
<path class="gC" d="M762,-7H755l-5,7l5,7H762Z"/>
<path class="pp" d="M770,-7L762,0L770,7Z"/>
<path class="dg" d="M780,-7H775l-5,7l5,7H780Z"/>
<path class="W" d="M787,-7L780,0L787,7Z"/>
<path class="lb" d="M796,-7H810l5,7l-5,7H796Z"/>
<path class="rd" d="M815,-7H831l5,7l-5,7H815Z"/>
<path class="kh" d="M836,-7L845,0L836,7Z"/>
<path class="kh" d="M845,-7L851,0L845,7Z"/>
<path class="bl" d="M851,-7H861l5,7l-5,7H851Z"/>
<path class="mt" d="M873,-7H895l5,7l-5,7H873Z"/>
<path class="W" d="M912,-7H905l-5,7l5,7H912Z"/>
<path class="gg" d="M912,-7H935l5,7l-5,7H912Z"/>
<path class="W" d="M940,-7L949,0L940,7Z"/>
<path class="W" d="M949,-7L956,0L949,7Z"/>
<path class="W" d="M983,-7H967l-5,7l5,7H983Z"/>
</g>
<g id="rowB7" class="gb" transform="translate(0,1484)">
<path class="W" d="M695,-7H673l-5,7l5,7H695Z"/>
<path class="W" d="M714,-7H703l-5,7l5,7H714Z"/>
<path class="gB" d="M729,-7H719l-5,7l5,7H729Z"/>
<path class="gB2" d="M744,-7H734l-5,7l5,7H744Z"/>
<path class="gC" d="M762,-7H755l-5,7l5,7H762Z"/>
<path class="pp" d="M770,-7L762,0L770,7Z"/>
<path class="dg" d="M780,-7H775l-5,7l5,7H780Z"/>
<path class="W" d="M787,-7L780,0L787,7Z"/>
<path class="lb" d="M796,-7H810l5,7l-5,7H796Z"/>
<path class="rd" d="M815,-7H831l5,7l-5,7H815Z"/>
<path class="kh" d="M836,-7L845,0L836,7Z"/>
<path class="kh" d="M845,-7L851,0L845,7Z"/>
<path class="bl" d="M851,-7H861l5,7l-5,7H851Z"/>
<path class="mt" d="M870,-7H892l5,7l-5,7H870Z"/>
<path class="W" d="M912,-7H902l-5,7l5,7H912Z"/>
<path class="gB" d="M920,-7L912,0L920,7Z"/>
<path class="gg" d="M920,-7H944l5,7l-5,7H920Z"/>
</g>
<g id="rowB8" class="gb" transform="translate(0,1546)">
<path class="W" d="M695,-7H673l-5,7l5,7H695Z"/>
<path class="W" d="M714,-7H703l-5,7l5,7H714Z"/>
<path class="gB" d="M729,-7H719l-5,7l5,7H729Z"/>
<path class="gB2" d="M744,-7H734l-5,7l5,7H744Z"/>
<path class="gC" d="M762,-7H755l-5,7l5,7H762Z"/>
<path class="pp" d="M770,-7L762,0L770,7Z"/>
<path class="dg" d="M780,-7H775l-5,7l5,7H780Z"/>
<path class="W" d="M787,-7L780,0L787,7Z"/>
<path class="lb" d="M796,-7H810l5,7l-5,7H796Z"/>
<path class="rd" d="M815,-7H831l5,7l-5,7H815Z"/>
<path class="kh" d="M836,-7H843l5,7l-5,7H836Z"/>
<path class="bl" d="M848,-7H858l5,7l-5,7H848Z"/>
<path class="W" d="M870,-7L863,0L870,7Z"/>
<path class="mt" d="M870,-7H892l5,7l-5,7H870Z"/>
<path class="W" d="M909,-7H902l-5,7l5,7H909Z"/>
<path class="gg" d="M909,-7H932l5,7l-5,7H909Z"/>
<path class="W" d="M937,-7L945,0L937,7Z"/>
<path class="W" d="M945,-7L951,0L945,7Z"/>
<path class="W" d="M977,-7H960l-5,7l5,7H977Z"/>
</g>
<g id="rowB9" class="gb" transform="translate(0,1608)">
<path class="gB" d="M722,-7H712l-5,7l5,7H722Z"/>
<path class="gB2" d="M738,-7H727l-5,7l5,7H738Z"/>
<path class="gC" d="M750,-7H743l-5,7l5,7H750Z"/>
<path class="gC" d="M759,-7L750,0L759,7Z"/>
<path class="pp" d="M765,-7L759,0L765,7Z"/>
<path class="dg" d="M773,-7L765,0L773,7Z"/>
<path class="W" d="M787,-7H778l-5,7l5,7H787Z"/>
<path class="lb" d="M787,-7H810l5,7l-5,7H787Z"/>
<path class="rd" d="M815,-7H831l5,7l-5,7H815Z"/>
<path class="kh" d="M836,-7L845,0L836,7Z"/>
<path class="bl" d="M845,-7H855l5,7l-5,7H845Z"/>
<path class="W" d="M872,-7H865l-5,7l5,7H872Z"/>
<path class="mt" d="M872,-7H892l5,7l-5,7H872Z"/>
<path class="W" d="M897,-7H910l5,7l-5,7H897Z"/>
<path class="W" d="M915,-7H926l5,7l-5,7H915Z"/>
<path class="gg" d="M931,-7H956l5,7l-5,7H931Z"/>
</g>
<g id="rowB10" class="gb" transform="translate(0,1669)">
<path class="gB" d="M722,-7H712l-5,7l5,7H722Z"/>
<path class="gB2" d="M738,-7H727l-5,7l5,7H738Z"/>
<path class="W" d="M738,-7L747,0L738,7Z"/>
<path class="W" d="M756,-7L747,0L756,7Z"/>
<path class="gC" d="M768,-7H761l-5,7l5,7H768Z"/>
<path class="pp" d="M775,-7L768,0L775,7Z"/>
<path class="dg" d="M784,-7L775,0L784,7Z"/>
<path class="W" d="M790,-7L784,0L790,7Z"/>
<path class="lb" d="M793,-7H810l5,7l-5,7H793Z"/>
<path class="rd" d="M815,-7H831l5,7l-5,7H815Z"/>
<path class="kh" d="M839,-7L848,0L839,7Z"/>
<path class="bl" d="M848,-7H858l5,7l-5,7H848Z"/>
<path class="mt" d="M866,-7H892l5,7l-5,7H866Z"/>
<path class="W" d="M897,-7L906,0L897,7Z"/>
<path class="gg" d="M906,-7H929l5,7l-5,7H906Z"/>
<path class="W" d="M934,-7L943,0L934,7Z"/>
<path class="W" d="M943,-7L950,0L943,7Z"/>
<path class="W" d="M950,-7L961,0L950,7Z" style="fill:#e0f0d8"/>
</g>

<!-- Legend -->
<g id="legend" class="t tl">
<rect x="1195" y="1207" width="7" height="9" fill="#111"/><text x="1225" y="1221" textLength="107" lengthAdjust="spacingAndGlyphs">Unknown</text>
<rect x="1197" y="1266" width="7" height="9" fill="#111"/><text x="1228" y="1280" textLength="317" lengthAdjust="spacingAndGlyphs">Gossenkoellesee Lake, Alpes</text>
<rect x="1197" y="1334" width="7" height="9" fill="#111"/><text x="1229" y="1348" textLength="100" lengthAdjust="spacingAndGlyphs">The Artic</text>
<rect x="1198" y="1398" width="7" height="9" fill="#111"/><text x="1229" y="1412" textLength="245" lengthAdjust="spacingAndGlyphs">Type Strain, Finland</text>
<rect x="1198" y="1459" width="7" height="9" fill="#111"/><text x="1229" y="1473" textLength="308" lengthAdjust="spacingAndGlyphs">Arabidospsis microbiome</text>
<rect x="1198" y="1523" width="7" height="9" fill="#111"/><text x="1229" y="1537" textLength="227" lengthAdjust="spacingAndGlyphs">Plants microbiome</text>
<rect x="1198" y="1583" width="7" height="9" fill="#111"/><text x="1229" y="1597" textLength="314" lengthAdjust="spacingAndGlyphs">Soil on ginseng plantation</text>
<rect x="1198" y="1647" width="7" height="9" fill="#111"/><text x="1229" y="1661" textLength="360" lengthAdjust="spacingAndGlyphs">Algae-associated microbiome</text>
</g>

<!-- Scale bar -->
<g id="scale">
<text class="t" x="56" y="1695" font-size="17" textLength="153" lengthAdjust="spacingAndGlyphs">Substitutions/site</text>
<g class="t" font-size="21" text-anchor="middle">
<text x="61" y="1721">0</text><text x="134" y="1721">0.2</text><text x="220" y="1721">0.4</text><text x="306" y="1721">0.6</text><text x="393" y="1721">0.8</text>
</g>
<path class="tree" d="M55,1745H489M55,1735V1745M144,1735V1745M232,1735V1745M320,1735V1745M407,1735V1745"/>
</g>

<!-- Bar chart -->
<g id="barchart">
<path d="M195,1800V1915M188,1838H203M188,1877H203M188,1915H203" stroke="#e87a20" stroke-width="2" fill="none"/>
<g class="t" font-size="23" text-anchor="end">
<text x="176" y="1831">100%</text><text x="162" y="1876">50%</text><text x="152" y="1916">0%</text>
</g>
<rect class="bar" x="210" y="1837" width="63" height="79" fill="#ff1c1c"/>
<rect class="bar" x="288" y="1838" width="63" height="79" fill="#b0f8dc"/>
<rect class="bar" x="365" y="1845" width="63" height="70" fill="#0a6e68"/>
<rect class="bar" x="441" y="1845" width="64" height="71" fill="#00b85a"/>
<rect class="bar" x="519" y="1845" width="64" height="70" fill="#d0b03c"/>
<rect class="bar" x="597" y="1845" width="64" height="70" fill="#d878e0"/>
<rect class="bar" x="674" y="1845" width="63" height="70" fill="#22a07e"/>
<rect class="bar" x="752" y="1846" width="63" height="69" fill="#a0f810"/>
<rect class="bar" x="833" y="1845" width="63" height="75" fill="#a0dcf0"/>
<rect class="bar" x="910" y="1845" width="62" height="75" fill="#6098e0"/>
<rect class="bar" x="986" y="1845" width="63" height="75" fill="#0c9420"/>
<rect class="bar" x="1061" y="1859" width="63" height="61" fill="#88a882"/>
<rect class="bar" x="1139" y="1883" width="66" height="34" fill="#6494c8"/>
<rect class="bar" x="1219" y="1895" width="62" height="23" fill="#f8a0e0"/>
<rect class="bar" x="1295" y="1908" width="64" height="10" fill="#30c0d0"/>
<rect class="bar" x="1371" y="1907" width="64" height="10" fill="#4a7030"/>
<rect class="bar" x="1453" y="1908" width="62" height="9" fill="#c898b0"/>
<rect class="bar" x="1529" y="1908" width="62" height="9" fill="#30c040"/>
<text class="t" x="195" y="1948" font-size="24" textLength="916" lengthAdjust="spacingAndGlyphs">Percentage of BGCs that contains this gene family with <tspan class="i">Sphingomonas sp.</tspan> So64.6b</text>
</g>
</svg>
